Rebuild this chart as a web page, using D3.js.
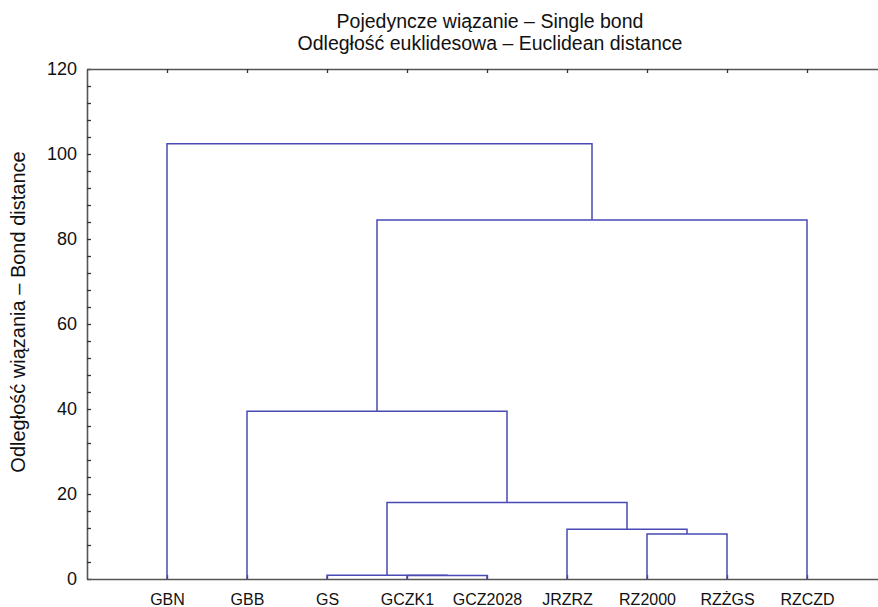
<!DOCTYPE html>
<html>
<head>
<meta charset="utf-8">
<script src="https://cdn.jsdelivr.net/npm/d3@7"></script>
<style>
  body { margin: 0; background: #fff; }
  text { font-family: "Liberation Sans", Arial, sans-serif; fill: #111; }
</style>
</head>
<body>
<div class="chart"></div>
<script>

// DATA ------------------------------------

const leaves = ["GBN", "GBB", "GS", "GCZK1", "GCZ2028", "JRZRZ", "RZ2000", "RZŻGS", "RZCZD"];

// merge i (1-based) is called "m" + i; members are leaves or earlier merges
const mergeA = ["GCZK1", "GS", "RZ2000", "JRZRZ", "m2", "GBB", "m6", "GBN"];
const mergeB = ["GCZ2028", "m1", "RZŻGS", "m3", "m4", "m5", "RZCZD", "m7"];
const mergeHeight = [0.8, 0.9, 10.6, 11.7, 18.0, 39.5, 84.5, 102.4];

const yTicks = [0, 20, 40, 60, 80, 100, 120];

const title1 = "Pojedyncze wiązanie – Single bond";
const title2 = "Odległość euklidesowa – Euclidean distance";
const yTitle = "Odległość wiązania – Bond distance";


// CHART INIT ------------------------------

const margin = {top: 69, right: 0, bottom: 28, left: 87};
const width = 800;
const height = 510;

const svg = d3.select(".chart").append("svg")
  .attr("width", 878)
  .attr("height", 607)
  .append("g")
  .attr("transform", "translate(" + margin.left + "," + margin.top + ")");

const xScale = d3.scalePoint()
  .domain(leaves)
  .range([0, width])
  .padding(1);

const yScale = d3.scaleLinear()
  .domain([0, 120])
  .range([height, 0]);

const axisColor = "#555";
const lineColor = "#4a4ab6";


// AXES ------------------------------------

const yAxis = d3.axisLeft(yScale)
  .tickValues(d3.range(0, 121, 4))
  .tickSize(-4)
  .tickSizeOuter(0)
  .tickPadding(10)
  .tickFormat(d => yTicks.includes(d) ? d : "");

svg.append("g")
  .attr("class", "y-axis")
  .call(yAxis);

svg.append("g")
  .attr("class", "x-axis")
  .attr("transform", `translate(0, ${height})`)
  .call(d3.axisBottom(xScale).tickSize(-4).tickSizeOuter(0).tickPadding(15));

svg.append("g")
  .attr("class", "top-axis")
  .call(d3.axisTop(xScale).tickSize(-4).tickSizeOuter(0).tickFormat(""));

svg.selectAll(".domain")
  .attr("stroke", axisColor)
  .attr("stroke-width", 1.6);

svg.selectAll(".tick line")
  .attr("stroke", "#333")
  .attr("stroke-width", 1.3);

svg.selectAll(".y-axis text")
  .attr("font-size", 18)
  .attr("fill", "#222");

svg.selectAll(".x-axis text")
  .attr("font-size", 16)
  .attr("fill", "#111");


// DENDROGRAM ------------------------------

const pos = {};
const hgt = {};
leaves.forEach(d => { pos[d] = xScale(d); hgt[d] = 0; });

const links = mergeHeight.map((h, i) => {
  const a = mergeA[i], b = mergeB[i];
  const name = "m" + (i + 1);
  pos[name] = (pos[a] + pos[b]) / 2;
  hgt[name] = h;
  return {xa: pos[a], ha: hgt[a], xb: pos[b], hb: hgt[b], h: h};
});

svg.selectAll(".link")
  .data(links)
  .enter()
  .append("path")
  .attr("class", "link")
  .attr("fill", "none")
  .attr("stroke", lineColor)
  .attr("stroke-width", 1.5)
  .attr("d", d => {
    const p = d3.path();
    p.moveTo(d.xa, yScale(d.ha));
    p.lineTo(d.xa, yScale(d.h));
    p.lineTo(d.xb, yScale(d.h));
    p.lineTo(d.xb, yScale(d.hb));
    return p.toString();
  });


// TITLES ----------------------------------

svg.append("text")
  .attr("x", width / 2 + 3)
  .attr("y", 28 - margin.top)
  .attr("text-anchor", "middle")
  .attr("font-size", 19.5)
  .text(title1);

svg.append("text")
  .attr("x", width / 2 + 3)
  .attr("y", 50 - margin.top)
  .attr("text-anchor", "middle")
  .attr("font-size", 19.5)
  .text(title2);

svg.append("text")
  .attr("transform", `translate(${25 - margin.left}, ${312 - margin.top}) rotate(-90)`)
  .attr("text-anchor", "middle")
  .attr("font-size", 20)
  .text(yTitle);

</script>
</body>
</html>
